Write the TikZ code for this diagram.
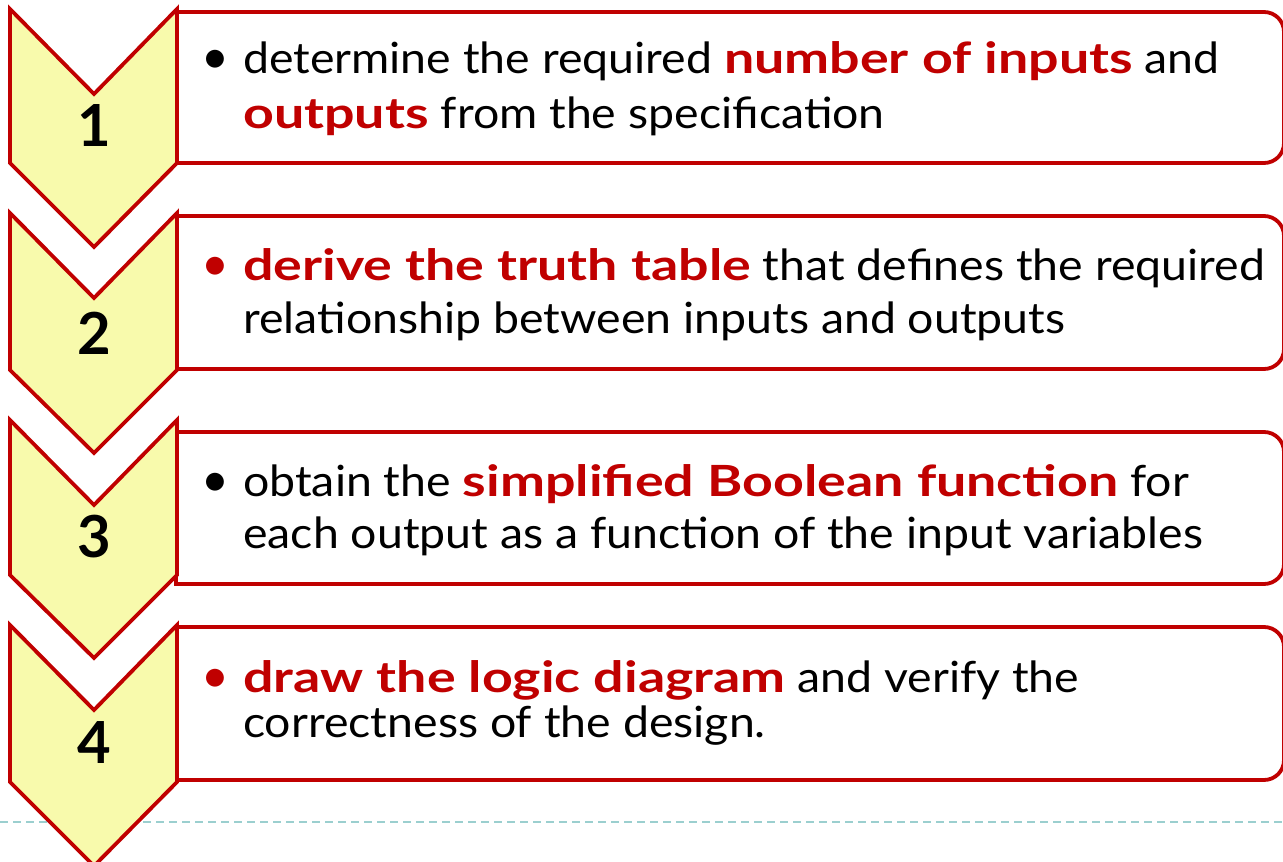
\documentclass[tikz,border=0pt]{standalone}
\usepackage{fontspec}
\setmainfont{Lato}[UprightFeatures={FakeStretch=1.08},BoldFeatures={FakeStretch=1.25}]
\newfontfamily\numfont{Lato}
\usepackage{xcolor}
\definecolor{accent}{RGB}{192,0,0}
\definecolor{chevfill}{RGB}{248,250,172}
\definecolor{dashteal}{RGB}{155,207,207}
\newcommand\hl[1]{\textcolor{accent}{\textbf{#1}}}
\begin{document}
\begin{tikzpicture}[x=1pt,y=-1pt,
  chev/.style={draw=accent,fill=chevfill,line width=3.8pt,line join=miter},
  stepbox/.style={draw=accent,fill=white,line width=3.8pt},
  num/.style={font=\numfont\fontsize{58}{60}\selectfont\bfseries,text=black,inner sep=0pt},
  txt/.style={font=\fontsize{43}{48}\selectfont,anchor=base west,inner sep=0pt,text=black},
  bul/.style={font=\numfont\fontsize{48}{48}\selectfont,anchor=base,inner sep=0pt}]
\useasboundingbox (0,0) rectangle (1283,862);
\fill[white] (0,0) rectangle (1283,862);
% dashed line
\draw[dashteal,line width=1.5pt,dash pattern=on 8pt off 5pt] (0,822) -- (1283,822);
% boxes
\draw[stepbox] (176,12) [rounded corners=20pt]-- (1284,12) -- (1284,163) [sharp corners]-- (176,163) -- cycle;
\draw[stepbox] (176,216) [rounded corners=20pt]-- (1284,216) -- (1284,369) [sharp corners]-- (176,369) -- cycle;
\draw[stepbox] (176,432) [rounded corners=20pt]-- (1284,432) -- (1284,584) [sharp corners]-- (176,584) -- cycle;
\draw[stepbox] (176,627) [rounded corners=20pt]-- (1284,627) -- (1284,780) [sharp corners]-- (176,780) -- cycle;
% chevrons
\draw[chev] (10,9) -- (94,94) -- (177,9) -- (177,163) -- (94,247) -- (10,163) -- cycle;
\draw[chev] (10,213) -- (94,298) -- (177,213) -- (177,370) -- (94,453) -- (10,370) -- cycle;
\draw[chev] (10,420) -- (94,505) -- (177,420) -- (177,575) -- (94,658) -- (10,575) -- cycle;
\draw[chev] (10,625) -- (94,710) -- (177,625) -- (177,782) -- (94,866) -- (10,782) -- cycle;
% numbers
\node[num] (n1) at (94,126) {1};
\node[num] (n2) at (94,333) {2};
\node[num] (n3) at (94,537) {3};
\node[num] (n4) at (94,743) {4};
% text box 1
\node[bul,text=black] (b1) at (215,73) {•};
\node[txt] (t1a) at (243,73) {determine the required \hl{number of inputs} and};
\node[txt] (t1b) at (243,128) {\hl{outputs} from the specification};
% text box 2
\node[bul,text=accent] (b2) at (215,280) {•};
\node[txt] (t2a) at (243,280) {\hl{derive the truth table} that defines the required};
\node[txt] (t2b) at (243,333) {relationship between inputs and outputs};
% text box 3
\node[bul,text=black] (b3) at (215,496) {•};
\node[txt] (t3a) at (243,496) {obtain the \hl{simplified Boolean function} for};
\node[txt] (t3b) at (243,548) {each output as a function of the input variables};
% text box 4
\node[bul,text=accent] (b4) at (215,692) {•};
\node[txt] (t4a) at (243,692) {\hl{draw the logic diagram} and verify the};
\node[txt] (t4b) at (243,737) {correctness of the design.};
\end{tikzpicture}
\end{document}
